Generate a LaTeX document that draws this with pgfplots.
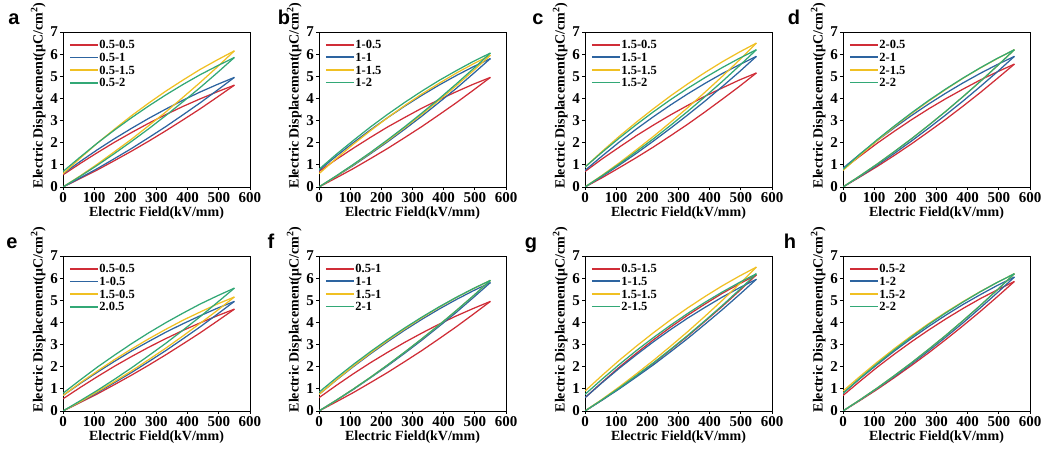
\documentclass[border=0pt]{standalone}
\usepackage{fontspec}
\setmainfont{Liberation Serif}
\newfontfamily\letterfont{Liberation Sans}
\usepackage{pgfplots}
\usepackage{pgfplotstable}
\pgfplotsset{compat=1.18}

\definecolor{cred}{RGB}{208,45,55}
\definecolor{cblue}{RGB}{45,100,160}
\definecolor{cyel}{RGB}{240,192,35}
\definecolor{cgreen}{RGB}{50,168,118}

\pgfplotstableread{
E c d
0 0 0.55
55 0.38 1.06
110 0.77 1.55
165 1.19 2.02
220 1.62 2.46
275 2.07 2.88
330 2.54 3.27
385 3.03 3.64
440 3.53 3.98
495 4.06 4.30
550 4.60 4.60
}\tAa
\pgfplotstableread{
E c d
0 0 0.60
55 0.41 1.15
110 0.83 1.68
165 1.28 2.18
220 1.74 2.65
275 2.23 3.10
330 2.73 3.52
385 3.26 3.92
440 3.80 4.29
495 4.37 4.63
550 4.95 4.95
}\tAb
\pgfplotstableread{
E c d
0 0 0.60
55 0.50 1.30
110 1.03 1.98
165 1.59 2.61
220 2.16 3.22
275 2.77 3.79
330 3.39 4.33
385 4.05 4.83
440 4.72 5.31
495 5.42 5.74
550 6.15 6.15
}\tAc
\pgfplotstableread{
E c d
0 0 0.70
55 0.48 1.35
110 0.98 1.98
165 1.51 2.57
220 2.06 3.13
275 2.63 3.66
330 3.23 4.16
385 3.85 4.63
440 4.49 5.07
495 5.16 5.47
550 5.85 5.85
}\tAd
\pgfplotstableread{
E c d
0 0 0.70
55 0.41 1.24
110 0.83 1.75
165 1.28 2.24
220 1.74 2.71
275 2.23 3.14
330 2.73 3.56
385 3.26 3.94
440 3.80 4.30
495 4.37 4.64
550 4.95 4.95
}\tBa
\pgfplotstableread{
E c d
0 0 0.75
55 0.48 1.39
110 0.97 2.00
165 1.50 2.58
220 2.04 3.13
275 2.61 3.65
330 3.20 4.14
385 3.82 4.60
440 4.45 5.03
495 5.12 5.43
550 5.80 5.80
}\tBb
\pgfplotstableread{
E c d
0 0 0.60
55 0.49 1.28
110 1.00 1.93
165 1.54 2.54
220 2.09 3.13
275 2.68 3.68
330 3.28 4.20
385 3.92 4.68
440 4.57 5.14
495 5.25 5.56
550 5.95 5.95
}\tBc
\pgfplotstableread{
E c d
0 0 0.80
55 0.50 1.47
110 1.02 2.10
165 1.56 2.71
220 2.13 3.28
275 2.72 3.82
330 3.34 4.33
385 3.98 4.81
440 4.65 5.25
495 5.34 5.67
550 6.05 6.05
}\tBd
\pgfplotstableread{
E c d
0 0 0.70
55 0.42 1.27
110 0.87 1.80
165 1.33 2.32
220 1.81 2.80
275 2.32 3.26
330 2.84 3.69
385 3.39 4.10
440 3.96 4.47
495 4.54 4.83
550 5.15 5.15
}\tCa
\pgfplotstableread{
E c d
0 0 0.75
55 0.48 1.40
110 0.99 2.03
165 1.52 2.62
220 2.08 3.18
275 2.66 3.71
330 3.26 4.21
385 3.88 4.68
440 4.53 5.12
495 5.20 5.52
550 5.90 5.90
}\tCb
\pgfplotstableread{
E c d
0 0 0.90
55 0.53 1.61
110 1.09 2.29
165 1.68 2.93
220 2.29 3.54
275 2.93 4.12
330 3.59 4.66
385 4.28 5.17
440 4.99 5.65
495 5.73 6.09
550 6.50 6.50
}\tCc
\pgfplotstableread{
E c d
0 0 0.90
55 0.51 1.57
110 1.04 2.21
165 1.60 2.82
220 2.18 3.40
275 2.79 3.95
330 3.42 4.46
385 4.08 4.94
440 4.76 5.39
495 5.47 5.81
550 6.20 6.20
}\tCd
\pgfplotstableread{
E c d
0 0 0.80
55 0.46 1.40
110 0.93 1.98
165 1.43 2.52
220 1.95 3.04
275 2.50 3.53
330 3.06 3.99
385 3.65 4.42
440 4.26 4.83
495 4.90 5.20
550 5.55 5.55
}\tDa
\pgfplotstableread{
E c d
0 0 0.85
55 0.48 1.49
110 0.99 2.10
165 1.52 2.68
220 2.08 3.23
275 2.66 3.75
330 3.26 4.24
385 3.88 4.70
440 4.53 5.13
495 5.20 5.53
550 5.90 5.90
}\tDb
\pgfplotstableread{
E c d
0 0 0.75
55 0.51 1.44
110 1.04 2.10
165 1.60 2.73
220 2.18 3.32
275 2.79 3.88
330 3.42 4.41
385 4.08 4.91
440 4.76 5.37
495 5.47 5.80
550 6.20 6.20
}\tDc
\pgfplotstableread{
E c d
0 0 0.80
55 0.51 1.49
110 1.04 2.14
165 1.60 2.76
220 2.18 3.35
275 2.79 3.91
330 3.42 4.43
385 4.08 4.92
440 4.76 5.38
495 5.47 5.81
550 6.20 6.20
}\tDd

\newcommand{\drawloop}[2]{%
  \addplot[draw=#1, line width=1.25pt] table[x=E,y=c]{#2};
  \addplot[draw=#1, line width=1.25pt, forget plot] table[x=E,y=d]{#2};
}
\newcommand{\legitem}[2]{{\textcolor{#1}{\rule[0.26em]{28pt}{1.8pt}}\hspace{1.5pt}#2}}

\pgfplotsset{
  legend image code/.code={},
  panel/.style={
    scale only axis, width=187pt, height=155pt,
    xmin=0, xmax=600, ymin=0, ymax=7,
    xtick={0,100,...,600}, ytick={0,1,...,7},
    tick align=outside, xtick pos=bottom, ytick pos=left,
    major tick length=3pt,
    axis line style={line width=0.9pt},
    tick style={line width=0.8pt, black},
    /pgf/number format/assume math mode=true,
    ticklabel style={font=\fontsize{15}{15}\selectfont\bfseries},
    xticklabel style={yshift=1.5pt},
    yticklabel style={xshift=1.5pt},
    xlabel={Electric Field(kV/mm)},
    ylabel={Electric Displacement(μC/cm\textsuperscript{2})},
    label style={font=\fontsize{14}{16}\selectfont\bfseries},
    ylabel style={at={(ticklabel cs:0.59)}, yshift=-2pt},
    xlabel style={yshift=2pt},
    legend style={draw=none, fill=none, at={(0.02,0.965)}, anchor=north west,
      font=\fontsize{12.5}{13}\selectfont\bfseries, row sep=-1.2pt,
      inner sep=1pt, column sep=0pt},
    legend cell align=left,
  }
}

\begin{document}
\begin{tikzpicture}
\useasboundingbox (0,0) rectangle (1045pt,452pt);
% Row 1
\begin{axis}[panel, at={(63pt,265pt)}, anchor=south west]
\drawloop{cred}{\tAa}
\drawloop{cblue}{\tAb}
\drawloop{cyel}{\tAc}
\drawloop{cgreen}{\tAd}
\legend{\legitem{cred}{0.5-0.5},\legitem{cblue}{0.5-1},\legitem{cyel}{0.5-1.5},\legitem{cgreen}{0.5-2}}
\end{axis}
\begin{axis}[panel, at={(319pt,265pt)}, anchor=south west]
\drawloop{cred}{\tBa}
\drawloop{cblue}{\tBb}
\drawloop{cyel}{\tBc}
\drawloop{cgreen}{\tBd}
\legend{\legitem{cred}{1-0.5},\legitem{cblue}{1-1},\legitem{cyel}{1-1.5},\legitem{cgreen}{1-2}}
\end{axis}
\begin{axis}[panel, at={(585pt,265pt)}, anchor=south west]
\drawloop{cred}{\tCa}
\drawloop{cblue}{\tCb}
\drawloop{cyel}{\tCc}
\drawloop{cgreen}{\tCd}
\legend{\legitem{cred}{1.5-0.5},\legitem{cblue}{1.5-1},\legitem{cyel}{1.5-1.5},\legitem{cgreen}{1.5-2}}
\end{axis}
\begin{axis}[panel, at={(843pt,265pt)}, anchor=south west]
\drawloop{cred}{\tDa}
\drawloop{cblue}{\tDb}
\drawloop{cyel}{\tDc}
\drawloop{cgreen}{\tDd}
\legend{\legitem{cred}{2-0.5},\legitem{cblue}{2-1},\legitem{cyel}{2-1.5},\legitem{cgreen}{2-2}}
\end{axis}
% Row 2
\begin{axis}[panel, at={(63pt,41pt)}, anchor=south west]
\drawloop{cred}{\tAa}
\drawloop{cblue}{\tBa}
\drawloop{cyel}{\tCa}
\drawloop{cgreen}{\tDa}
\legend{\legitem{cred}{0.5-0.5},\legitem{cblue}{1-0.5},\legitem{cyel}{1.5-0.5},\legitem{cgreen}{2.0.5}}
\end{axis}
\begin{axis}[panel, at={(319pt,41pt)}, anchor=south west]
\drawloop{cred}{\tAb}
\drawloop{cblue}{\tBb}
\drawloop{cyel}{\tCb}
\drawloop{cgreen}{\tDb}
\legend{\legitem{cred}{0.5-1},\legitem{cblue}{1-1},\legitem{cyel}{1.5-1},\legitem{cgreen}{2-1}}
\end{axis}
\begin{axis}[panel, at={(585pt,41pt)}, anchor=south west]
\drawloop{cred}{\tAc}
\drawloop{cblue}{\tBc}
\drawloop{cyel}{\tCc}
\drawloop{cgreen}{\tDc}
\legend{\legitem{cred}{0.5-1.5},\legitem{cblue}{1-1.5},\legitem{cyel}{1.5-1.5},\legitem{cgreen}{2-1.5}}
\end{axis}
\begin{axis}[panel, at={(843pt,41pt)}, anchor=south west]
\drawloop{cred}{\tAd}
\drawloop{cblue}{\tBd}
\drawloop{cyel}{\tCd}
\drawloop{cgreen}{\tDd}
\legend{\legitem{cred}{0.5-2},\legitem{cblue}{1-2},\legitem{cyel}{1.5-2},\legitem{cgreen}{2-2}}
\end{axis}
% panel letters
\begin{scope}[every node/.style={font=\letterfont\fontsize{20}{20}\selectfont\bfseries, anchor=base, inner sep=0pt}]
\node at (14pt,427pt) {a};
\node at (284pt,427pt) {b};
\node at (538pt,427pt) {c};
\node at (794pt,427pt) {d};
\node at (12pt,203pt) {e};
\node at (271pt,203pt) {f};
\node at (531pt,203pt) {g};
\node at (790pt,203pt) {h};
\end{scope}
\end{tikzpicture}
\end{document}
